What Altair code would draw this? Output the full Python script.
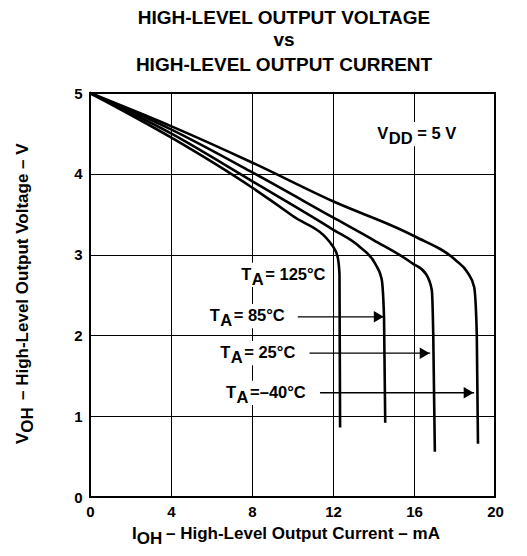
import altair as alt
import pandas as pd

# V_OH vs I_OH readings per ambient temperature
ioh_m40 = [0, 4, 8, 12, 16, 18.06, 18.64, 18.97, 19.1, 19.16]
voh_m40 = [5, 4.59, 4.14, 3.66, 3.23, 2.93, 2.78, 2.6, 2.02, 0.66]
ioh_25 = [0, 4, 8, 12, 14, 15.93, 16.59, 16.88, 16.95, 17.03]
voh_25 = [5, 4.55, 4.02, 3.46, 3.18, 2.89, 2.76, 2.56, 2.02, 0.56]
ioh_85 = [0, 4, 8, 12, 13.3, 14.1, 14.4, 14.52, 14.58]
voh_85 = [5, 4.5, 3.91, 3.31, 3.1, 2.88, 2.7, 2.22, 0.92]
ioh_125 = [0, 4, 8, 10, 12, 12.23, 12.32, 12.35]
voh_125 = [5, 4.45, 3.83, 3.48, 3.1, 2.97, 2.76, 0.86]

x_ticks = [0, 4, 8, 12, 16, 20]
y_ticks = [0, 1, 2, 3, 4, 5]

# temperature labels and their arrows
lab_x = [7.47, 5.91, 6.43, 6.72]
lab_y = [2.75, 2.24, 1.78, 1.29]
lab_end = [11.7, 9.7, 10.2, 10.75]
lab_txt = ['= 125°C', '= 85°C', '= 25°C', '=–40°C']
arr_from = [10.26, 10.84, 11.36]
arr_to = [14.53, 16.8, 18.97]
arr_y = [2.23, 1.78, 1.29]

title_lines = ['HIGH-LEVEL OUTPUT VOLTAGE', 'vs', 'HIGH-LEVEL OUTPUT CURRENT']

FONT = 'Liberation Sans'

rows = []
for name, xs, ys in [('-40', ioh_m40, voh_m40), ('25', ioh_25, voh_25),
                     ('85', ioh_85, voh_85), ('125', ioh_125, voh_125)]:
    for i, (a, b) in enumerate(zip(xs, ys)):
        rows.append({'x': a, 'y': b, 't': name, 'o': i})
curves_df = pd.DataFrame(rows)

labels_df = pd.DataFrame({'x': lab_x, 'y': lab_y, 'x2': lab_end,
                          'y0': [v - 0.15 for v in lab_y], 'y1': [v + 0.15 for v in lab_y],
                          'txt': lab_txt})
vdd_df = pd.DataFrame({'x': [14.19], 'y': [4.49], 'x2': [18.1],
                       'y0': [4.34], 'y1': [4.64]})
arrows_df = pd.DataFrame({'x': arr_from, 'x2': arr_to, 'y': arr_y})
one = pd.DataFrame({'a': [0]})

X = alt.X('x:Q', scale=alt.Scale(domain=[0, 20], nice=False), title=None,
          axis=alt.Axis(values=x_ticks, grid=True, ticks=False, domain=False, format='d',
                        labelFont=FONT, labelFontSize=15, labelFontWeight='bold',
                        labelColor='black', labelPadding=7, labelFlush=False,
                        gridColor='black', gridWidth=1, gridOpacity=1))
Y = alt.Y('y:Q', scale=alt.Scale(domain=[0, 5], nice=False), title=None,
          axis=alt.Axis(values=y_ticks, grid=True, ticks=False, domain=False, format='d',
                        labelFont=FONT, labelFontSize=15, labelFontWeight='bold',
                        labelColor='black', labelPadding=8,
                        gridColor='black', gridWidth=1, gridOpacity=1))

boxes = alt.Chart(labels_df).mark_rect(color='white').encode(
    x=X, x2='x2:Q', y=alt.Y('y0:Q', scale=alt.Scale(domain=[0, 5], nice=False)), y2='y1:Q')
vdd_box = alt.Chart(vdd_df).mark_rect(color='white').encode(
    x='x:Q', x2='x2:Q', y='y0:Q', y2='y1:Q')

curves = alt.Chart(curves_df).mark_line(color='black', strokeWidth=2.6,
                                        interpolate='monotone').encode(
    x=X, y=Y, detail='t:N', order='o:Q')

shafts = alt.Chart(arrows_df).mark_rule(color='black', strokeWidth=1.3).encode(
    x='x:Q', x2='x2:Q', y='y:Q')
heads = alt.Chart(arrows_df).mark_point(shape='triangle-right', filled=True, opacity=1,
                                        color='black', size=130, xOffset=-5.5).encode(
    x='x2:Q', y='y:Q')

txt = dict(font=FONT, fontSize=16.5, fontWeight='bold', color='black',
           align='left', baseline='middle')
lab_t = alt.Chart(labels_df).mark_text(text='T', **txt).encode(x='x:Q', y='y:Q')
lab_a = alt.Chart(labels_df).mark_text(text='A', dx=10.5, dy=5, **txt).encode(x='x:Q', y='y:Q')
lab_r = alt.Chart(labels_df).mark_text(dx=24, **txt).encode(x='x:Q', y='y:Q', text='txt:N')

vdd_v = alt.Chart(vdd_df).mark_text(text='V', **txt).encode(x='x:Q', y='y:Q')
vdd_d = alt.Chart(vdd_df).mark_text(text='DD', dx=11.5, dy=5, **txt).encode(x='x:Q', y='y:Q')
vdd_r = alt.Chart(vdd_df).mark_text(text='= 5 V', dx=40, **txt).encode(x='x:Q', y='y:Q')

title_layers = []
for i, line in enumerate(title_lines):
    title_layers.append(alt.Chart(one).mark_text(
        text=line, font=FONT, fontSize=19, fontWeight='bold', color='black',
        align='center', baseline='alphabetic').encode(
        x=alt.value(194), y=alt.value([-69, -47, -22][i])))

ax = dict(font=FONT, fontSize=17, fontWeight='bold', color='black', baseline='alphabetic')
xt_i = alt.Chart(one).mark_text(text='I', align='right', **ax).encode(
    x=alt.value(46.7), y=alt.value(446))
xt_oh = alt.Chart(one).mark_text(text='OH', align='left', **ax).encode(
    x=alt.value(46.7), y=alt.value(451))
xt_r = alt.Chart(one).mark_text(text='– High-Level Output Current – mA', align='left', **ax).encode(
    x=alt.value(76), y=alt.value(446))

yt_v = alt.Chart(one).mark_text(text='V', align='left', angle=270, **ax).encode(
    x=alt.value(-62), y=alt.value(351))
yt_oh = alt.Chart(one).mark_text(text='OH', align='left', angle=270, **ax).encode(
    x=alt.value(-57), y=alt.value(339.7))
yt_r = alt.Chart(one).mark_text(text='– High-Level Output Voltage – V', align='left',
                                angle=270, **ax).encode(
    x=alt.value(-62), y=alt.value(307))

chart = alt.layer(
    boxes, vdd_box, curves, shafts, heads, lab_t, lab_a, lab_r, vdd_v, vdd_d, vdd_r,
    *title_layers, xt_i, xt_oh, xt_r, yt_v, yt_oh, yt_r
).properties(
    width=405, height=404, autosize='none',
    padding={'left': 82, 'top': 85, 'right': 24, 'bottom': 51}
).configure_view(stroke='black', strokeWidth=2)

chart.save("out.html", embed_options={"renderer": "svg", "actions": False})
